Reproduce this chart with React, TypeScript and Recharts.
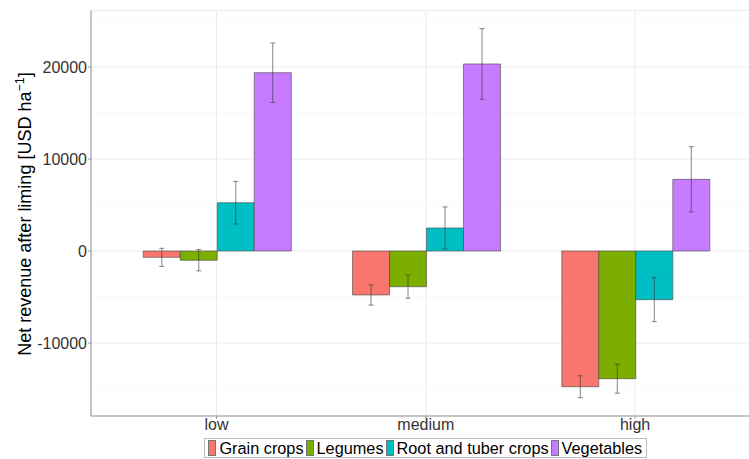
import React from "react";
import { BarChart, Bar, XAxis, YAxis, CartesianGrid, ErrorBar } from "recharts";

const categories = ["low", "medium", "high"];

const grainCrops = [-690, -4780, -14750];
const grainCropsErr = [985, 1100, 1195];
const legumes = [-1010, -3880, -13880];
const legumesErr = [1155, 1250, 1575];
const rootTuber = [5250, 2500, -5290];
const rootTuberErr = [2320, 2285, 2390];
const vegetables = [19380, 20330, 7790];
const vegetablesErr = [3230, 3840, 3550];

const majorTicks = [-10000, 0, 10000, 20000];
const allTicks = [-15000, -10000, -5000, 0, 5000, 10000, 15000, 20000, 25000];

const series = [
  { key: "grain", name: "Grain crops", color: "#F8766D" },
  { key: "legumes", name: "Legumes", color: "#7CAE00" },
  { key: "root", name: "Root and tuber crops", color: "#00BFC4" },
  { key: "veg", name: "Vegetables", color: "#C77CFF" },
];

const data = categories.map((c, i) => ({
  level: c,
  grain: grainCrops[i],
  grainErr: grainCropsErr[i],
  legumes: legumes[i],
  legumesErr: legumesErr[i],
  root: rootTuber[i],
  rootErr: rootTuberErr[i],
  veg: vegetables[i],
  vegErr: vegetablesErr[i],
}));

const FONT = "'Liberation Sans', Arial, sans-serif";

const YTick = (props: any) => {
  const { x, y, payload } = props;
  if (!majorTicks.includes(payload.value)) return <g />;
  return (
    <g>
      <line x1={x + 1} x2={x + 4} y1={y} y2={y} stroke="#999" />
      <text x={x} y={y} dy="0.35em" textAnchor="end" fontSize={16} fill="#333" fontFamily={FONT}>
        {payload.value}
      </text>
    </g>
  );
};

// minor lines sit on even indexes of allTicks
const gridLine = (props: any) => {
  const minor = props.index % 2 === 0;
  return (
    <line
      key={`h-${props.index}`}
      x1={props.x1}
      x2={props.x2}
      y1={props.y1}
      y2={props.y2}
      stroke={minor ? "#f6f6f6" : "#ebebeb"}
      strokeWidth={minor ? 0.8 : 1}
    />
  );
};

const YTitle = () => (
  <text
    x={31}
    y={214}
    transform="rotate(-90 31 214)"
    textAnchor="middle"
    fontSize={18}
    fill="#000"
    fontFamily={FONT}
  >
    <tspan>Net revenue after liming [USD ha</tspan>
    <tspan dy={-7} fontSize={12.5}>−1</tspan>
    <tspan dy={7}>]</tspan>
  </text>
);

export default function App() {
  return (
    <div style={{ position: "absolute", left: 0, top: 0, width: 749, height: 459, overflow: "hidden", background: "#fff" }}>
      <BarChart
        width={770}
        height={459}
        data={data}
        margin={{ top: 10.5, right: 9.4, left: 0, bottom: 0 }}
        barGap={0}
        barCategoryGap={31.35}
      >
        <CartesianGrid horizontal={gridLine} stroke="#ebebeb" />
        <XAxis
          dataKey="level"
          height={43}
          padding={{ left: 20.9, right: 20.9 }}
          tickSize={3}
          tickMargin={0}
          tick={{ fontSize: 16, fill: "#333", fontFamily: FONT }}
          tickLine={{ stroke: "#999" }}
          axisLine={{ stroke: "#b3b3b3", strokeWidth: 1.5 }}
        />
        <XAxis
          xAxisId="top"
          orientation="top"
          dataKey="level"
          height={0}
          tick={false}
          tickLine={false}
          axisLine={{ stroke: "#b3b3b3", strokeWidth: 1.5 }}
        />
        <YAxis
          width={91}
          type="number"
          domain={[-17935, 26141]}
          ticks={allTicks}
          interval={0}
          allowDataOverflow
          tickSize={3}
          tickMargin={1}
          tickLine={false}
          tick={<YTick />}
          axisLine={{ stroke: "#b3b3b3", strokeWidth: 1.5 }}
          label={<YTitle />}
        />
        {series.map((s) => (
          <Bar
            key={s.key}
            dataKey={s.key}
            name={s.name}
            fill={s.color}
            stroke="#444"
            strokeWidth={0.6}
            isAnimationActive={false}
          >
            <ErrorBar dataKey={`${s.key}Err`} width={2.5} stroke="#333" strokeOpacity={0.6} strokeWidth={1} />
          </Bar>
        ))}
      </BarChart>
      <div
        style={{
          position: "absolute",
          left: 91,
          width: 669.6,
          top: 438,
          display: "flex",
          justifyContent: "center",
        }}
      >
        <div
          style={{
            display: "flex",
            alignItems: "center",
            border: "1px solid #bbb",
            height: 18,
            padding: "0 2px 0 3px",
            fontFamily: FONT,
            fontSize: 16.3,
            color: "#000",
            lineHeight: "18px",
            whiteSpace: "nowrap",
          }}
        >
          {series.map((s) => (
            <div key={s.key} style={{ display: "flex", alignItems: "center", marginRight: 2 }}>
              <span
                style={{
                  display: "inline-block",
                  width: 6,
                  height: 14,
                  background: s.color,
                  border: "0.5px solid #777",
                  marginRight: 3,
                }}
              />
              <span>{s.name}</span>
            </div>
          ))}
        </div>
      </div>
    </div>
  );
}
